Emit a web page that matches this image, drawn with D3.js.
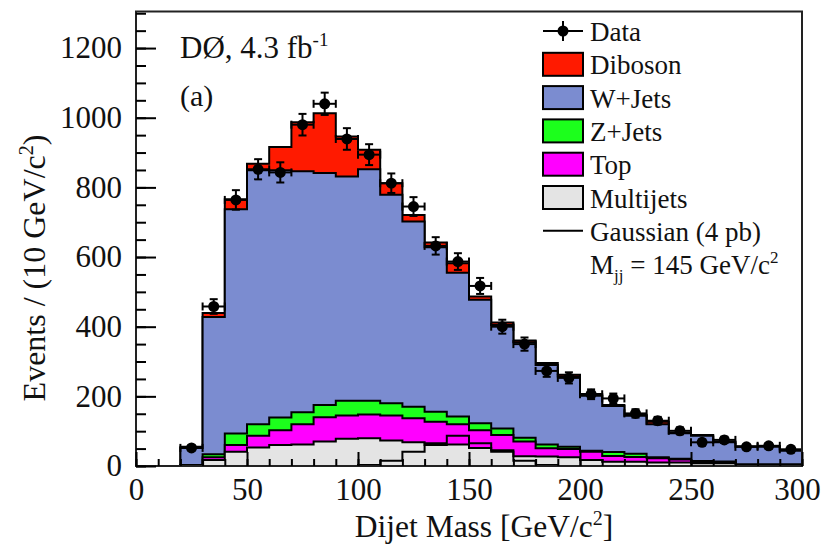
<!DOCTYPE html>
<html>
<head>
<meta charset="utf-8">
<script src="https://cdn.jsdelivr.net/npm/d3@7/dist/d3.min.js"></script>
<style>
  html, body { margin: 0; padding: 0; background: #fff; }
  svg { display: block; }
  text { font-family: "Liberation Serif", "DejaVu Serif", serif; fill: #111; }
</style>
</head>
<body>
<svg id="chart" width="821" height="545"></svg>
<script>
// Lower edges of the 10 GeV/c^2 dijet-mass bins
const binLow = [20, 30, 40, 50, 60, 70, 80, 90, 100, 110, 120, 130, 140, 150,
                160, 170, 180, 190, 200, 210, 220, 230, 240, 250, 260, 270, 280, 290];
const binWidth = 10;

// Background contributions per bin (events)
const multijets = [1, 17, 41, 53, 60, 62, 70, 78, 80, 73, 68, 60, 62, 52,
                   45, 28, 27, 25, 17, 12, 12, 10, 10, 8, 8, 1, 1, 1];
const topQuark  = [1, 8, 19, 34, 43, 58, 70, 67, 68, 72, 69, 67, 58, 51,
                   44, 42, 24, 24, 24, 17, 14, 12, 9, 3, 3, 2, 2, 2];
const zJets     = [1, 9, 33, 33, 36, 34, 35, 42, 39, 35, 33, 29, 22, 20,
                   19, 11, 11, 6, 3, 11, 9, 3, 2, 3, 2, 2, 2, 2];
const wJets     = [49, 394, 644, 729, 710, 692, 666, 644, 665, 599, 532, 472, 413, 354,
                   297, 274, 228, 202, 158, 132, 109, 95, 73, 73, 55, 50, 50, 39];
const diboson   = [3, 11, 29, 19, 67, 141, 172, 115, 56, 33, 19, 14, 27, 10,
                   7, 5, 6, 5, 5, 3, 3, 7, 2, 2, 2, 2, 2, 2];

// Gaussian signal hypothesis, 4 pb at M_jj = 145 GeV/c^2
const gaussian  = [0, 0, 0, 0, 0, 0, 0, 0, 3, 15, 41, 65, 87, 65,
                   41, 15, 3, 0, 0, 0, 0, 0, 0, 0, 0, 0, 0, 0];

// Observed events and their statistical uncertainties
const dataCounts = [52, 458, 764, 852, 843, 980, 1040, 939, 894, 812, 745, 632, 587, 517,
                    400, 350, 273, 253, 206, 194, 151, 130, 101, 68, 75, 55, 58, 48];
const dataErrors = [7, 21, 28, 29, 29, 31, 32, 31, 30, 28, 27, 25, 24, 23,
                    20, 19, 17, 16, 14, 14, 12, 11, 10, 8, 9, 7, 8, 7];

const xTickValues = [0, 50, 100, 150, 200, 250, 300];
const yTickValues = [0, 200, 400, 600, 800, 1000, 1200];

// Stack layers from bottom to top
const layers = [
  { name: "Multijets", values: multijets, color: "#e4e4e4" },
  { name: "Top",       values: topQuark,  color: "#ff00ff" },
  { name: "Z+Jets",    values: zJets,     color: "#1cff1c" },
  { name: "W+Jets",    values: wJets,     color: "#7b8cd0" },
  { name: "Diboson",   values: diboson,   color: "#ff1a00" }
];

const svg = d3.select("#chart");
const plot = { left: 136, right: 802, top: 11.5, bottom: 466 };

const x = d3.scaleLinear().domain([0, 300]).range([plot.left, plot.right]);
const y = d3.scaleLinear().domain([0, 1305]).range([plot.bottom, plot.top]);

// cumulative sums for the stacked histogram
let running = binLow.map(() => 0);
layers.forEach(l => {
  running = running.map((r, i) => r + l.values[i]);
  l.cum = running.slice();
});

// step outline points: up from zero at first edge, across every bin, back down
function stepPoints(vals) {
  const pts = [[binLow[0], 0]];
  vals.forEach((v, i) => {
    pts.push([binLow[i], v]);
    pts.push([binLow[i] + binWidth, v]);
  });
  pts.push([binLow[binLow.length - 1] + binWidth, 0]);
  return pts;
}

const line = d3.line().x(d => x(d[0])).y(d => y(d[1]));
const area = d3.area().x(d => x(d[0])).y0(y(0)).y1(d => y(d[1]));

const gStack = svg.append("g");
// draw the largest cumulative first so smaller ones lie on top
layers.slice().reverse().forEach(l => {
  const pts = stepPoints(l.cum);
  gStack.append("path").attr("d", area(pts)).attr("fill", l.color);
  gStack.append("path").attr("d", line(pts))
    .attr("fill", "none").attr("stroke", "#000").attr("stroke-width", 2)
    .attr("stroke-linejoin", "miter");
});

// Gaussian signal line
svg.append("path").attr("d", line(stepPoints(gaussian)))
  .attr("fill", "none").attr("stroke", "#000").attr("stroke-width", 2);

// Data points with error bars
const gData = svg.append("g");
dataCounts.forEach((v, i) => {
  const cx = x(binLow[i] + binWidth / 2);
  const cy = y(v);
  const e = dataErrors[i];
  const xl = x(binLow[i]), xr = x(binLow[i] + binWidth);
  const yt = y(v + e), yb = y(v - e);
  const g = gData.append("g").attr("stroke", "#000").attr("stroke-width", 2);
  g.append("line").attr("x1", xl).attr("x2", xr).attr("y1", cy).attr("y2", cy);
  g.append("line").attr("x1", xl).attr("x2", xl).attr("y1", cy - 4).attr("y2", cy + 4);
  g.append("line").attr("x1", xr).attr("x2", xr).attr("y1", cy - 4).attr("y2", cy + 4);
  g.append("line").attr("x1", cx).attr("x2", cx).attr("y1", yt).attr("y2", yb);
  g.append("line").attr("x1", cx - 4).attr("x2", cx + 4).attr("y1", yt).attr("y2", yt);
  g.append("line").attr("x1", cx - 4).attr("x2", cx + 4).attr("y1", yb).attr("y2", yb);
  gData.append("circle").attr("cx", cx).attr("cy", cy).attr("r", 5.5).attr("fill", "#000");
});

// Frame
svg.append("rect")
  .attr("x", plot.left).attr("y", plot.top)
  .attr("width", plot.right - plot.left).attr("height", plot.bottom - plot.top)
  .attr("fill", "none").attr("stroke", "#222").attr("stroke-width", 2);

// Axes with inward ticks
const xAxis = d3.axisBottom(x).tickValues(xTickValues).tickSize(-14).tickPadding(12)
  .tickFormat(d3.format("d"));
const xMinor = d3.axisBottom(x).tickValues(d3.range(0, 301, 10)).tickSize(-7).tickFormat("");
const yAxis = d3.axisLeft(y).tickValues(yTickValues).tickSize(-20).tickPadding(14)
  .tickFormat(d3.format("d"));
const yMinor = d3.axisLeft(y).tickValues(d3.range(0, 1301, 50)).tickSize(-10).tickFormat("");

function styleAxis(g, fontSize) {
  g.select(".domain").remove();
  g.selectAll(".tick line").attr("stroke", "#000").attr("stroke-width", 2);
  g.selectAll("text").attr("font-size", fontSize).attr("font-family", "Liberation Serif").attr("fill", "#111");
}
svg.append("g").attr("transform", `translate(0,${plot.bottom})`).call(xMinor).call(g => styleAxis(g, 0));
svg.append("g").attr("transform", `translate(0,${plot.bottom})`).call(xAxis).call(g => {
  styleAxis(g, 31);
  // keep the last label inside the page edge
  g.selectAll(".tick text").filter(d => d === 300).attr("dx", -5);
});
svg.append("g").attr("transform", `translate(${plot.left},0)`).call(yMinor).call(g => styleAxis(g, 0));
svg.append("g").attr("transform", `translate(${plot.left},0)`).call(yAxis).call(g => styleAxis(g, 31));

// Axis titles
const xt = svg.append("text").attr("x", 484).attr("y", 537).attr("text-anchor", "middle")
  .attr("font-size", 31.5);
xt.append("tspan").text("Dijet Mass [GeV/c");
xt.append("tspan").attr("dy", -12).attr("font-size", 20).text("2");
xt.append("tspan").attr("dy", 12).text("]");

const yt = svg.append("text").attr("transform", "translate(45,268) rotate(-90)")
  .attr("text-anchor", "middle").attr("font-size", 32);
yt.append("tspan").text("Events / (10 GeV/c");
yt.append("tspan").attr("dy", -12).attr("font-size", 20).text("2");
yt.append("tspan").attr("dy", 12).text(")");

// Experiment label
const lab = svg.append("text").attr("x", 180).attr("y", 58).attr("font-size", 31);
lab.append("tspan").text("DØ, 4.3 fb");
lab.append("tspan").attr("dy", -12).attr("font-size", 19).text("-1");
svg.append("text").attr("x", 180).attr("y", 106).attr("font-size", 30).text("(a)");

// Legend
const legX = 543, legTextX = 590, legY0 = 31, legDy = 33.3;
const legRows = [
  { label: "Data", kind: "data" },
  { label: "Diboson", kind: "box", color: "#ff1a00" },
  { label: "W+Jets", kind: "box", color: "#7b8cd0" },
  { label: "Z+Jets", kind: "box", color: "#1cff1c" },
  { label: "Top", kind: "box", color: "#ff00ff" },
  { label: "Multijets", kind: "box", color: "#e4e4e4" },
  { label: "Gaussian (4 pb)", kind: "line" }
];
const gLeg = svg.append("g");
legRows.forEach((r, i) => {
  const cy = legY0 + i * legDy;
  if (r.kind === "box") {
    gLeg.append("rect").attr("x", legX).attr("y", cy - 11.5).attr("width", 40).attr("height", 23)
      .attr("fill", r.color).attr("stroke", "#000").attr("stroke-width", 2);
  } else if (r.kind === "line") {
    gLeg.append("line").attr("x1", legX).attr("x2", legX + 40).attr("y1", cy).attr("y2", cy)
      .attr("stroke", "#000").attr("stroke-width", 2);
  } else {
    gLeg.append("line").attr("x1", legX).attr("x2", legX + 40).attr("y1", cy).attr("y2", cy)
      .attr("stroke", "#000").attr("stroke-width", 2);
    gLeg.append("line").attr("x1", legX + 20).attr("x2", legX + 20).attr("y1", cy - 10).attr("y2", cy + 10)
      .attr("stroke", "#000").attr("stroke-width", 2);
    gLeg.append("circle").attr("cx", legX + 20).attr("cy", cy).attr("r", 5.5).attr("fill", "#000");
  }
  gLeg.append("text").attr("x", legTextX).attr("y", cy + 10).attr("font-size", 27).text(r.label);
});
const mjj = gLeg.append("text").attr("x", legTextX).attr("y", legY0 + 7 * legDy + 10).attr("font-size", 27);
mjj.append("tspan").text("M");
mjj.append("tspan").attr("dy", 7).attr("font-size", 17).text("jj");
mjj.append("tspan").attr("dy", -7).text(" = 145 GeV/c");
mjj.append("tspan").attr("dy", -11).attr("font-size", 17).text("2");
</script>
</body>
</html>
